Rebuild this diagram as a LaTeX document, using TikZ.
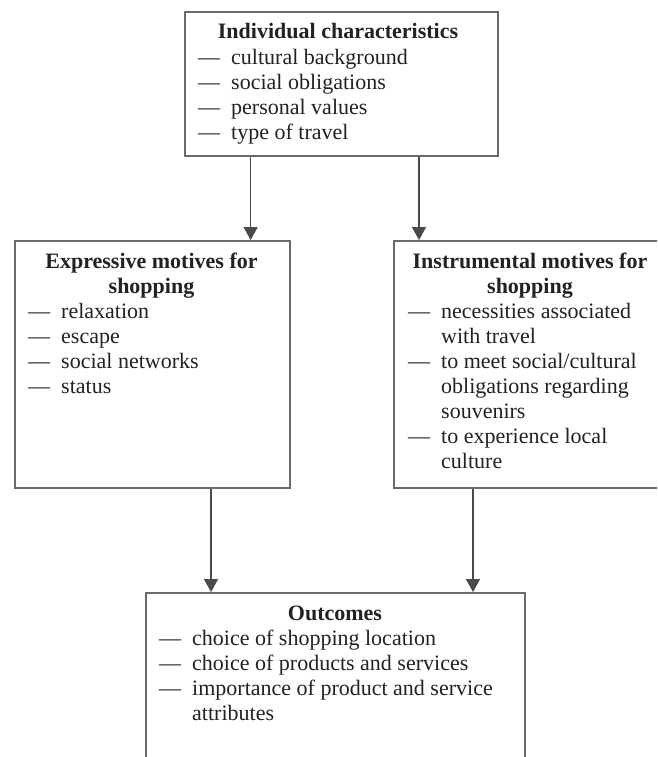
\documentclass[tikz,border=0pt]{standalone}
\usepackage{fontspec}
\setmainfont{Liberation Serif}
\usetikzlibrary{arrows.meta}
\definecolor{boxline}{HTML}{6A6A6A}
\definecolor{arrline}{HTML}{4A4A4A}
\definecolor{txt}{HTML}{222222}
\newcommand{\dashitem}{\makebox[33pt][l]{—}}
\tikzset{
  box/.style={draw=boxline, line width=1.6pt, minimum width=#1, inner sep=0pt, anchor=north west},
  ttl/.style={anchor=base, inner sep=0pt, text=txt, font=\fontsize{22}{25}\selectfont\bfseries},
  lst/.style={anchor=base west, inner sep=0pt, text=txt, font=\fontsize{22}{25}\selectfont},
  arr/.style={draw=arrline, line width=1.6pt, -{Triangle[width=14pt,length=13pt]}}
}
\begin{document}
\begin{tikzpicture}[x=1pt,y=-1pt]
\useasboundingbox (0,0) rectangle (657,757);
\fill[white] (0,0) rectangle (657,757);
\clip (0,0) rectangle (657,757);
% boxes
\node[box=313pt, minimum height=144pt] (ind) at (184,11) {};
\node[box=275pt, minimum height=247pt] (exp) at (14,240) {};
\node[box=274pt, minimum height=247pt] (ins) at (393,240) {};
\node[box=379pt, minimum height=190pt] (out) at (145,592) {};
% texts
\node[ttl] (indt) at (338,39) {Individual characteristics};
\node[lst] (indl) at (198,65) {\begin{tabular}[t]{@{}l@{}l@{}}
\dashitem & cultural background\\
\dashitem & social obligations\\
\dashitem & personal values\\
\dashitem & type of travel
\end{tabular}};
\node[ttl] (expt) at (151.5,268) {\begin{tabular}[t]{@{}c@{}}Expressive motives for\\ shopping\end{tabular}};
\node[lst] (expl) at (28,318) {\begin{tabular}[t]{@{}l@{}l@{}}
\dashitem & relaxation\\
\dashitem & escape\\
\dashitem & social networks\\
\dashitem & status
\end{tabular}};
\node[ttl] (inst) at (530,268) {\begin{tabular}[t]{@{}c@{}}Instrumental motives for\\ shopping\end{tabular}};
\node[lst] (insl) at (408,318) {\begin{tabular}[t]{@{}l@{}l@{}}
\dashitem & necessities associated\\
 & with travel\\
\dashitem & to meet social/cultural\\
 & obligations regarding\\
 & souvenirs\\
\dashitem & to experience local\\
 & culture
\end{tabular}};
\node[ttl] (outt) at (335,620) {Outcomes};
\node[lst] (outl) at (159,645) {\begin{tabular}[t]{@{}l@{}l@{}}
\dashitem & choice of shopping location\\
\dashitem & choice of products and services\\
\dashitem & importance of product and service\\
 & attributes
\end{tabular}};
% connectors
\draw[arr] (ind.south -| exp.north east) ++(-40,0) coordinate (a1) -- (a1 |- exp.north);
\draw[arr] (ind.south -| ins.north west) ++(26,0) coordinate (a2) -- (a2 |- ins.north);
\draw[arr] (exp.south west) ++(197,0) coordinate (b1) -- (b1 |- out.north);
\draw[arr] (ins.south west) ++(80,0) coordinate (b2) -- (b2 |- out.north);
\end{tikzpicture}
\end{document}
